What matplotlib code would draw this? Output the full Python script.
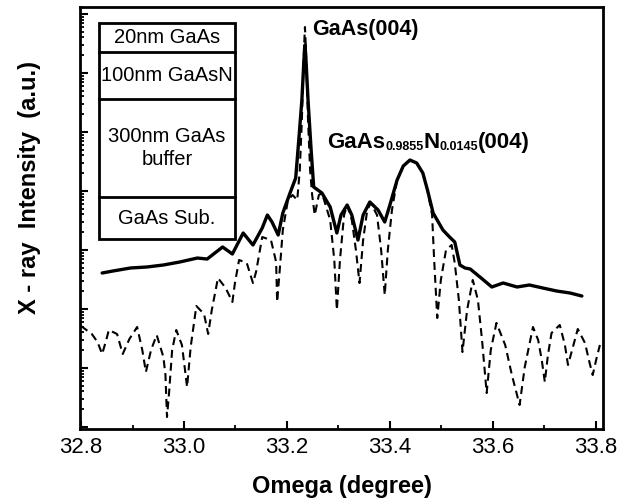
import numpy as np
import matplotlib
matplotlib.use("Agg")
import matplotlib.pyplot as plt
from matplotlib.ticker import LogLocator, NullFormatter, MultipleLocator
from matplotlib.patches import Rectangle

plt.rcParams['font.family'] = ['Liberation Sans', 'DejaVu Sans']

# ---- data: measured (solid) curve, omega in degrees, log10 intensity (a.u.)
omega_meas = [32.841, 32.862, 32.896, 32.928, 32.960, 32.992, 33.026, 33.045,
              33.060, 33.075, 33.094, 33.115, 33.134, 33.152, 33.162, 33.171,
              33.183, 33.192, 33.206, 33.217, 33.223, 33.229, 33.233, 33.235,
              33.237, 33.241, 33.247, 33.252,
              33.268, 33.284, 33.297, 33.305, 33.317, 33.326, 33.338, 33.348,
              33.361, 33.377, 33.390, 33.400, 33.414, 33.426, 33.439, 33.452,
              33.464, 33.473, 33.484, 33.503, 33.516, 33.526, 33.536, 33.546,
              33.556, 33.575, 33.598, 33.620, 33.647, 33.671, 33.697, 33.724,
              33.750, 33.773]
logI_meas = [2.610, 2.644, 2.695, 2.712, 2.746, 2.797, 2.864, 2.847,
             2.949, 3.051, 2.932, 3.288, 3.085, 3.373, 3.593, 3.475,
             3.254, 3.627, 3.966, 4.220, 4.864, 5.542, 6.220, 6.475,
             6.220, 5.542, 4.695, 4.068,
             3.966, 3.729, 3.288, 3.593, 3.763, 3.593, 3.169, 3.593,
             3.814, 3.678, 3.475, 3.763, 4.186, 4.424, 4.525, 4.475,
             4.305, 4.017, 3.627, 3.339, 3.220, 3.136, 2.746, 2.695,
             2.678, 2.542, 2.373, 2.441, 2.373, 2.407, 2.356, 2.305,
             2.271, 2.220]

# ---- data: simulated (dashed) curve
omega_sim = [32.800, 32.821, 32.832, 32.841, 32.849, 32.854, 32.870, 32.881,
             32.894, 32.909, 32.919, 32.926, 32.936, 32.947, 32.960, 32.964,
             32.967, 32.971, 32.977, 32.985, 32.996, 33.002, 33.006, 33.013,
             33.024, 33.039, 33.047, 33.054, 33.066, 33.081, 33.094, 33.099,
             33.107, 33.122, 33.134, 33.140, 33.152, 33.169, 33.179, 33.181,
             33.186, 33.192, 33.202, 33.211, 33.220, 33.225, 33.229, 33.233,
             33.235, 33.237, 33.241, 33.245,
             33.249, 33.254, 33.262, 33.268, 33.284, 33.292, 33.297, 33.303,
             33.311, 33.317, 33.326, 33.334, 33.341, 33.348, 33.356, 33.363,
             33.375, 33.383, 33.390, 33.396, 33.404, 33.414, 33.426, 33.439,
             33.452, 33.464, 33.473, 33.482, 33.486, 33.492, 33.499, 33.509,
             33.520, 33.526, 33.534, 33.541, 33.550, 33.561, 33.571, 33.579,
             33.588, 33.596, 33.607, 33.624, 33.637, 33.652, 33.662, 33.678,
             33.688, 33.695, 33.701, 33.707, 33.714, 33.730, 33.740, 33.746,
             33.754, 33.765, 33.779, 33.788, 33.794, 33.802, 33.808]
logI_sim = [1.712, 1.576, 1.441, 1.237, 1.475, 1.644, 1.576, 1.237,
            1.492, 1.695, 1.305, 0.932, 1.305, 1.559, 1.186, 0.881,
            0.169, 0.576, 1.305, 1.644, 1.390, 0.966, 0.678, 1.356,
            2.051, 1.915, 1.576, 1.983, 2.525, 2.356, 2.119, 2.441,
            2.831, 2.780, 2.441, 2.627, 3.220, 3.169, 2.797, 2.119,
            2.661, 3.339, 3.847, 3.932, 3.847, 4.356, 5.203, 6.390,
            6.780, 6.390, 5.203, 4.356,
            3.932, 3.593, 3.932, 3.966, 3.508, 2.831, 1.983, 2.831,
            3.593, 3.763, 3.508, 3.000, 2.441, 3.169, 3.678, 3.797,
            3.593, 3.000, 2.237, 3.000, 3.678, 4.186, 4.424, 4.525,
            4.475, 4.305, 4.017, 3.593, 2.831, 1.847, 2.492, 3.000,
            3.085, 2.780, 2.153, 1.271, 1.983, 2.492, 2.153, 1.475,
            0.576, 1.305, 1.763, 1.390, 0.881, 0.373, 1.017, 1.695,
            1.475, 1.136, 0.763, 1.220, 1.593, 1.729, 1.390, 1.051,
            1.305, 1.661, 1.424, 1.085, 0.881, 1.186, 1.390]

x_ticks = [32.8, 33.0, 33.2, 33.4, 33.6, 33.8]
x_ticklabels = ["32.8", "33.0", "33.2", "33.4", "33.6", "33.8"]
layers = ["20nm GaAs", "100nm GaAsN", "300nm GaAs\nbuffer", "GaAs Sub."]

I_meas = 10.0 ** np.array(logI_meas)
I_sim = 10.0 ** np.array(logI_sim)

fig = plt.figure(figsize=(6.17, 5.03), dpi=100)
ax = fig.add_axes([80 / 617, 1 - 429 / 503, 523 / 617, 422 / 503])

ax.plot(omega_sim, I_sim, color='black', lw=1.5, dashes=(3.8, 2.4),
        solid_joinstyle='round')
ax.plot(omega_meas, I_meas, color='black', lw=2.4, solid_joinstyle='round',
        solid_capstyle='round')

ax.set_yscale('log')
ax.set_xlim(32.798, 33.814)
ax.set_ylim(10 ** -0.034, 10 ** 7.119)

ax.set_xticks(x_ticks)
ax.set_xticklabels(x_ticklabels)
ax.xaxis.set_minor_locator(MultipleLocator(0.1))
ax.yaxis.set_major_locator(LogLocator(base=10, numticks=20))
ax.yaxis.set_minor_locator(LogLocator(base=10, subs=np.arange(2, 10), numticks=100))
ax.yaxis.set_major_formatter(NullFormatter())
ax.yaxis.set_minor_formatter(NullFormatter())

ax.tick_params(axis='both', which='both', direction='in', top=False, right=False)
ax.tick_params(axis='both', which='major', length=5.8, width=1.5)
ax.tick_params(axis='both', which='minor', length=3.0, width=1.3)
ax.tick_params(axis='x', which='major', labelsize=16, pad=6)

for sp in ax.spines.values():
    sp.set_linewidth(2.0)

ax.set_xlabel("Omega (degree)", fontsize=17, fontweight='bold', labelpad=12)
fig.text(30 / 617, 1 - 188 / 503, "X - ray  Intensity  (a.u.)", rotation=90,
         fontsize=17, fontweight='bold', ha='center', va='center')

# peak annotations
ax.text(33.249, 10 ** 6.644, "GaAs(004)", fontsize=15.5, fontweight='bold',
        ha='left', va='baseline')

main_fs, sub_fs = 16, 9
t1 = ax.text(33.278, 10 ** 4.729, "GaAs", fontsize=main_fs, fontweight='bold',
             ha='left', va='baseline')
t2 = ax.annotate("0.9855", xy=(1, 0), xycoords=t1, fontsize=sub_fs,
                 fontweight='bold', ha='left', va='bottom')
t3 = ax.annotate("N", xy=(1, 0), xycoords=(t2, t1), fontsize=main_fs,
                 fontweight='bold', ha='left', va='bottom')
t4 = ax.annotate("0.0145", xy=(1, 0), xycoords=(t3, t1), fontsize=sub_fs,
                 fontweight='bold', ha='left', va='bottom')
t5 = ax.annotate("(004)", xy=(1, 0), xycoords=(t4, t1), fontsize=main_fs,
                 fontweight='bold', ha='left', va='bottom')

# layer structure inset
bx0, bx1 = 0.0363, 0.2964
edges = [0.9622, 0.8936, 0.7825, 0.5508, 0.4492]
ax.add_patch(Rectangle((bx0, edges[-1]), bx1 - bx0, edges[0] - edges[-1],
                       transform=ax.transAxes, fill=True, facecolor='white',
                       edgecolor='black', lw=2.0, zorder=5))
for e in edges[1:-1]:
    ax.plot([bx0, bx1], [e, e], transform=ax.transAxes, color='black',
            lw=2.0, zorder=6)
for i, lab in enumerate(layers):
    yc = 0.5 * (edges[i] + edges[i + 1])
    ax.text(0.5 * (bx0 + bx1), yc, lab, transform=ax.transAxes, fontsize=14.5,
            ha='center', va='center', zorder=7, linespacing=1.25)

fig.savefig("out.png", dpi=100)
